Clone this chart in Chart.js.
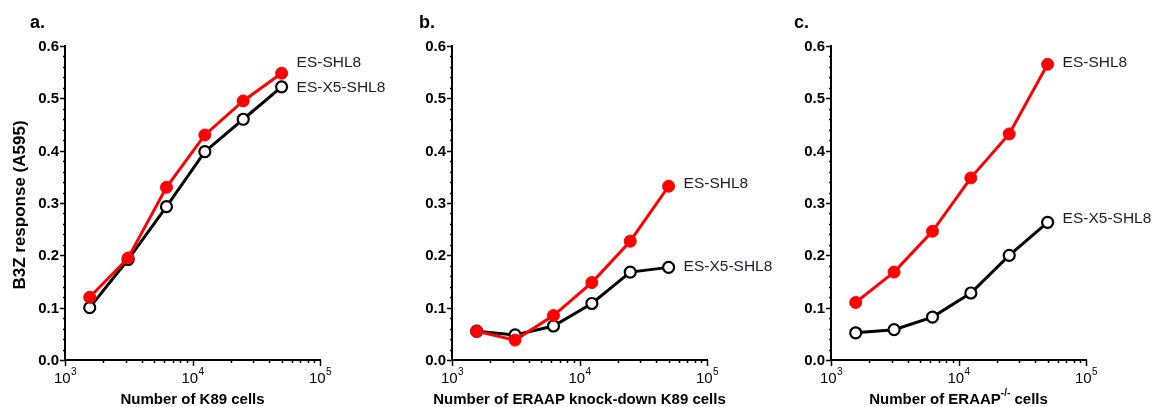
<!DOCTYPE html>
<html>
<head>
<meta charset="utf-8">
<script src="https://cdn.jsdelivr.net/npm/chart.js@4.4.0/dist/chart.umd.min.js"></script>
<style>
  html, body { margin: 0; padding: 0; background: #fff; }
  #wrap { position: relative; width: 1154px; height: 407px; overflow: hidden; }
  .panel { position: absolute; top: 0; height: 407px; }
</style>
</head>
<body>
<div id="wrap">
  <div class="panel" style="left:0;width:410px"><canvas id="chartA"></canvas></div>
  <div class="panel" style="left:380px;width:410px"><canvas id="chartB"></canvas></div>
  <div class="panel" style="left:760px;width:394px"><canvas id="chartC"></canvas></div>
</div>
<script>
// cell numbers (two-fold dilutions)
const cellCounts = [1562.5, 3125, 6250, 12500, 25000, 50000]
const seriesNames = ['ES-SHL8', 'ES-X5-SHL8']

// panel a: K89 cells
const aShl8 = [0.120, 0.195, 0.330, 0.430, 0.495, 0.548]
const aX5Shl8 = [0.100, 0.192, 0.293, 0.398, 0.460, 0.522]

// panel b: ERAAP knock-down K89 cells
const bShl8 = [0.055, 0.038, 0.085, 0.148, 0.227, 0.332]
const bX5Shl8 = [0.055, 0.048, 0.065, 0.108, 0.168, 0.177]

// panel c: ERAAP-/- cells
const cShl8 = [0.110, 0.168, 0.246, 0.348, 0.432, 0.565]
const cX5Shl8 = [0.052, 0.058, 0.082, 0.128, 0.200, 0.263]

const yTickValues = [0, 0.1, 0.2, 0.3, 0.4, 0.5, 0.6]
const yTickLabels = ['0.0', '0.1', '0.2', '0.3', '0.4', '0.5', '0.6']
const xDecades = [1000, 10000, 100000]
const xDecadeExps = ['3', '4', '5']

const FONT = '"Liberation Sans", Arial, sans-serif'

const decor = {
  id: 'decor',
  afterDraw(chart, args, opts) {
    const { ctx, chartArea, scales: { x, y } } = chart
    ctx.save()
    ctx.strokeStyle = '#000'
    ctx.fillStyle = '#000'
    ctx.lineWidth = 1.5

    // y ticks: major every 0.1, minor every 0.02
    for (let i = 0; i <= 30; i++) {
      const py = Math.round(y.getPixelForValue(i / 50)) + 0.5
      const len = i % 5 === 0 ? 5 : 2
      ctx.beginPath()
      ctx.moveTo(chartArea.left - len, py)
      ctx.lineTo(chartArea.left, py)
      ctx.stroke()
    }
    ctx.font = 'bold 15px ' + FONT
    ctx.textAlign = 'right'
    ctx.textBaseline = 'middle'
    yTickValues.forEach((v, i) => {
      ctx.fillText(yTickLabels[i], chartArea.left - 6, y.getPixelForValue(v) + 1)
    })

    // x ticks: decades long, 2..9 short
    for (let k = 0; k < xDecades.length; k++) {
      const mults = k < xDecades.length - 1 ? [1, 2, 3, 4, 5, 6, 7, 8, 9] : [1]
      mults.forEach(m => {
        const px = Math.round(x.getPixelForValue(xDecades[k] * m)) + 0.5
        const len = m === 1 ? 6 : 3
        ctx.beginPath()
        ctx.moveTo(px, chartArea.bottom)
        ctx.lineTo(px, chartArea.bottom + len)
        ctx.stroke()
      })
    }
    xDecades.forEach((v, i) => {
      const px = x.getPixelForValue(v)
      ctx.font = '15px ' + FONT
      const w1 = ctx.measureText('10').width
      ctx.font = '10px ' + FONT
      const w2 = ctx.measureText(xDecadeExps[i]).width
      const start = px - (w1 + w2) / 2
      ctx.textAlign = 'left'
      ctx.textBaseline = 'alphabetic'
      ctx.font = '15px ' + FONT
      ctx.fillText('10', start, chartArea.bottom + 23)
      ctx.font = '10px ' + FONT
      ctx.fillText(xDecadeExps[i], start + w1 + 0.5, chartArea.bottom + 15)
    })

    // x title (with optional superscript part)
    const parts = opts.xTitle
    let total = 0
    parts.forEach(p => {
      ctx.font = p.sup ? 'bold 10px ' + FONT : 'bold 15px ' + FONT
      p.w = ctx.measureText(p.text).width
      total += p.w
    })
    let tx = (chartArea.left + chartArea.right) / 2 - total / 2
    const ty = chartArea.bottom + 44
    ctx.textAlign = 'left'
    parts.forEach(p => {
      ctx.font = p.sup ? 'bold 10px ' + FONT : 'bold 15px ' + FONT
      ctx.fillText(p.text, tx, p.sup ? ty - 8 : ty)
      tx += p.w
    })

    // y title
    if (opts.yTitle) {
      ctx.save()
      ctx.translate(20, (chartArea.top + chartArea.bottom) / 2 + 2)
      ctx.rotate(-Math.PI / 2)
      ctx.font = 'bold 17px ' + FONT
      ctx.textAlign = 'center'
      ctx.textBaseline = 'middle'
      ctx.fillText(opts.yTitle, 0, 0)
      ctx.restore()
    }

    // panel letter
    ctx.font = 'bold 18px ' + FONT
    ctx.textAlign = 'left'
    ctx.textBaseline = 'alphabetic'
    ctx.fillText(opts.letter, opts.letterX, 28)

    // series labels at the end of each line
    ctx.font = '15.5px ' + FONT
    ctx.fillStyle = '#1c1c2e'
    ctx.textBaseline = 'middle'
    chart.data.datasets.forEach((ds, i) => {
      const meta = chart.getDatasetMeta(i)
      const last = meta.data[meta.data.length - 1]
      ctx.fillText(ds.label, last.x + 15, last.y + opts.labelNudge[i])
    })
    ctx.restore()
  }
}

function makePanel(id, redData, blackData, cfg) {
  const red = '#ff0000'
  return new Chart(document.getElementById(id), {
    type: 'line',
    data: {
      datasets: [
        {
          label: seriesNames[0],
          data: cellCounts.map((c, i) => ({ x: c, y: redData[i] })),
          borderColor: red,
          backgroundColor: red,
          borderWidth: 3,
          pointRadius: 6,
          pointBorderWidth: 1,
          pointBackgroundColor: red,
          pointBorderColor: red
        },
        {
          label: seriesNames[1],
          data: cellCounts.map((c, i) => ({ x: c, y: blackData[i] })),
          borderColor: '#000',
          backgroundColor: '#fff',
          borderWidth: 3,
          pointRadius: 5.5,
          pointBorderWidth: 2.2,
          pointBackgroundColor: '#fff',
          pointBorderColor: '#000'
        }
      ]
    },
    options: {
      responsive: true,
      maintainAspectRatio: false,
      animation: false,
      clip: false,
      layout: { padding: { top: 46, right: cfg.padRight, left: 0, bottom: 0 } },
      plugins: {
        legend: { display: false },
        tooltip: { enabled: false },
        decor: cfg
      },
      scales: {
        x: {
          type: 'logarithmic',
          min: 1000,
          max: 100000,
          grid: { display: false },
          ticks: { display: false },
          border: { display: true, color: '#000', width: 2 },
          afterFit: s => { s.height = 47 }
        },
        y: {
          min: 0,
          max: 0.6,
          grid: { display: false },
          ticks: { display: false },
          border: { display: true, color: '#000', width: 2 },
          afterFit: s => { s.width = cfg.axisLeft }
        }
      }
    },
    plugins: [decor]
  })
}

makePanel('chartA', aShl8, aX5Shl8, {
  axisLeft: 65, padRight: 90, letter: 'a.', letterX: 30,
  yTitle: 'B3Z response (A595)',
  xTitle: [{ text: 'Number of K89 cells' }],
  labelNudge: [-10, 1]
})
makePanel('chartB', bShl8, bX5Shl8, {
  axisLeft: 72, padRight: 83, letter: 'b.', letterX: 39,
  xTitle: [{ text: 'Number of ERAAP knock-down K89 cells' }],
  labelNudge: [-3, -1]
})
makePanel('chartC', cShl8, cX5Shl8, {
  axisLeft: 71, padRight: 68, letter: 'c.', letterX: 34,
  xTitle: [{ text: 'Number of ERAAP' }, { text: '-/-', sup: true }, { text: ' cells' }],
  labelNudge: [-2, -4]
})
</script>
</body>
</html>
